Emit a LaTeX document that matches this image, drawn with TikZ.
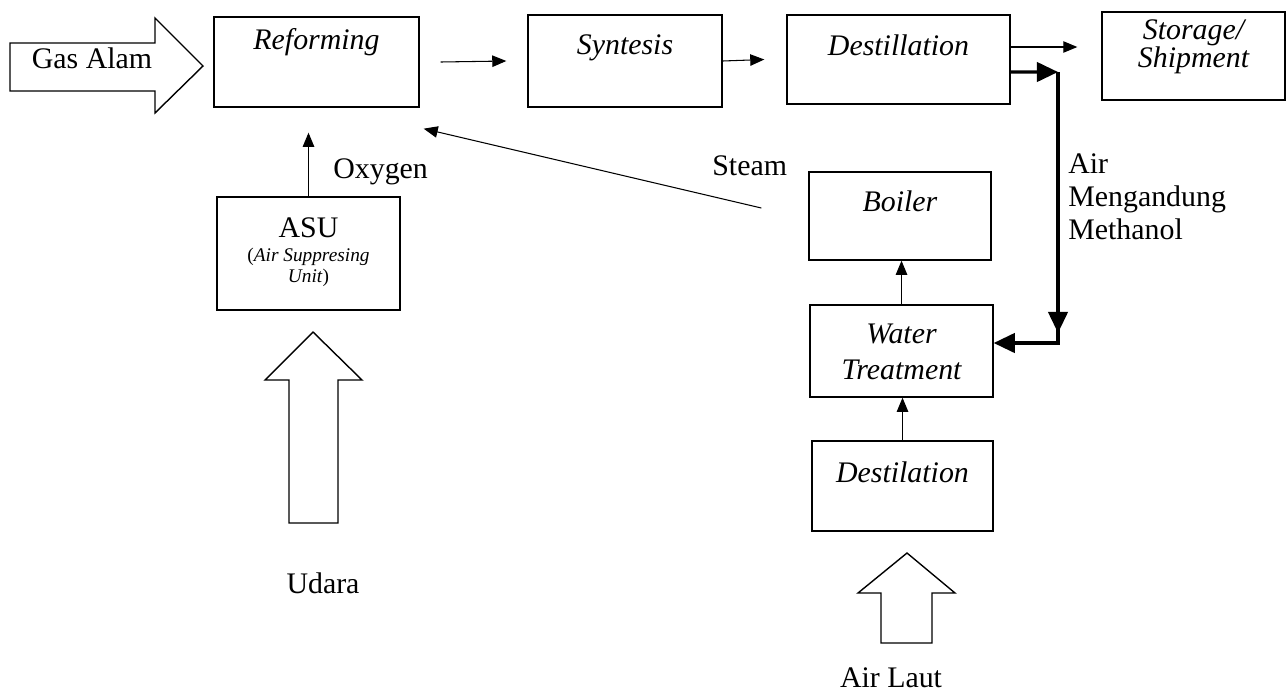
\documentclass[tikz,border=0pt]{standalone}
\usepackage{fontspec}
\setmainfont{Liberation Serif}
\usetikzlibrary{arrows.meta,calc}
\tikzset{unit/.style={
    rectangle,draw=black,line width=0.8pt,inner sep=0pt,
    align=flush center,font=\fontsize{17}{20}\selectfont\itshape}}
\tikzset{tag/.style={inner sep=0pt,font=\fontsize{17}{19}\selectfont}}
\tikzset{flow/.style={line width=0.6pt,-{Triangle[length=8pt,width=6.5pt]}}}
\tikzset{bigflow/.style={line width=1.8pt,-{Triangle[length=12pt,width=11pt]}}}
\tikzset{feed/.style={line width=0.8pt,line join=miter,fill=white}}

\begin{document}
\begin{tikzpicture}[x=0.02cm,y=-0.02cm]
  \useasboundingbox (0,0) rectangle (1287,697);

  % main line
  \node (reform) [unit,text width=4.1cm,text height=0.64cm,text depth=1.16cm] at (316.5,62) {Reforming};
  \node (synth)  [unit,text width=3.88cm,text height=0.78cm,text depth=1.06cm] at (625,61) {Syntesis};
  \node (destil) [unit,text width=4.46cm,text height=0.8cm,text depth=0.98cm] at (898.5,59.5) {Destillation};
  \node (store)  [unit,text width=3.66cm,text height=0.55cm,text depth=1.21cm] at (1193.5,56) {Storage/\\[-4pt]Shipment};

  % utilities
  \node (asu)    [unit,text width=3.66cm,text height=0.8cm,text depth=1.46cm,font=\fontsize{17}{11.5}\selectfont] at (308.5,253.5)
                 {ASU\\[2.7pt]{\fontsize{11}{11.5}\selectfont(\textit{Air Suppresing}\\\textit{Unit})}};
  \node (boiler) [unit,text width=3.64cm,text height=0.78cm,text depth=0.98cm] at (900,216) {Boiler};
  \node (wt)     [unit,text width=3.66cm,text height=0.76cm,text depth=1.08cm,
                  font=\fontsize{17}{21}\selectfont\itshape] at (901.5,351) {Water\\Treatment};
  \node (seadst) [unit,text width=3.62cm,text height=0.82cm,text depth=0.98cm] at (902.5,486) {Destilation};

  % feed arrows
  \draw[feed] (10,43) -- (155,43) -- (155,18) -- (203,66) -- (155,113) -- (155,91) -- (10,91) -- cycle;
  \draw[feed] (289,523) -- (289,380) -- (265,380) -- (313,332) -- (362,380) -- (338,380) -- (338,523) -- cycle;
  \draw[feed] (881,643) -- (881,593) -- (858,593) -- (907,553) -- (955,593) -- (932,593) -- (932,643) -- cycle;

  \node (gaslbl)   [tag,anchor=base] at (92,68) {Gas Alam};
  \node (oxylbl)   [tag,anchor=base west] at (333,178) {Oxygen};
  \node (steamlbl) [tag,anchor=base west] at (712,175) {Steam};
  \node (waterlbl) [tag,anchor=base west,text width=4cm,align=left,
                    font=\fontsize{17}{18.8}\selectfont] at (1068,173) {Air\\Mengandung\\Methanol};
  \node (udaralbl) [tag,anchor=base] at (323,593) {Udara};
  \node (lautlbl)  [tag,anchor=base] at (891,687) {Air Laut};

  \coordinate (bend1) at (1058,72);
  \coordinate (bend2) at (1058,343);

  \draw[flow] ($(reform.east)+(21,0)$) -- ($(synth.west)+(-21,0)$);
  \draw[flow] (synth.east) -- ($(destil.west)+(-22,0)$);
  \draw[flow] ($(destil.east)+(0,-12.5)$) -- ($(store.west)+(-24,-9)$);
  \draw[bigflow] ($(destil.east)+(0,12.5)$) -- (bend1);
  \draw[bigflow] (bend1) -- (bend2) -- ($(wt.east)+(0,-8)$);
  \draw[bigflow] (bend1) -- ($(bend2)+(0,-10)$);
  \draw[flow] (asu.north) -- ($(asu.north |- reform.south)+(0,25)$);
  \draw[flow] ($(boiler.west)+(-47,-8)$) -- ($(reform.south east)+(4,21)$);
  \draw[flow] (wt.north) -- (wt.north |- boiler.south);
  \draw[flow] (seadst.north) -- (seadst.north |- wt.south);

\end{tikzpicture}
\end{document}
